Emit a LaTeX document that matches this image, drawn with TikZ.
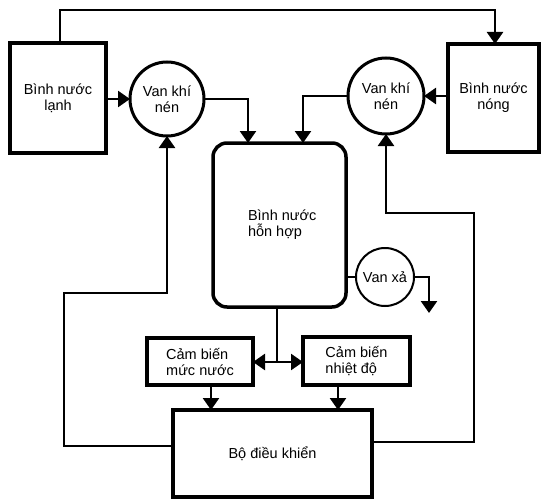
\documentclass[tikz,border=0pt]{standalone}
\usepackage{fontspec}
\setmainfont{Liberation Sans}
\usetikzlibrary{arrows.meta}
\begin{document}
\begin{tikzpicture}[x=1pt,y=-1pt,
  every node/.style={font=\fontsize{14.5}{16}\selectfont, inner sep=0pt, outer sep=0pt},
  bigbox/.style={draw, line width=4pt, align=center},
  sensbox/.style={draw, line width=4pt, align=left},
  valve/.style={draw, circle, line width=3pt, align=center},
  conn/.style={line width=2.5pt},
  arr/.style={conn, -{Triangle[width=16pt,length=12pt]}},
]
\useasboundingbox (0,0) rectangle (543,500);

% nodes
\node[bigbox, minimum width=96pt, minimum height=109pt] (cold) at (58,98) {Bình nước\\lạnh};
\node[bigbox, minimum width=91pt, minimum height=108pt] (hot) at (493.5,98) {Bình nước\\nóng};
\node[valve, minimum size=74pt] (vl) at (167,99) {Van khí\\nén};
\node[valve, minimum size=76pt] (vr) at (386,96) {Van khí\\nén};
\node[draw, line width=3.5pt, rounded corners=14pt, minimum width=133pt, minimum height=164pt] (mix) at (279.5,225) {};
\node[anchor=west, align=left] (mixt) at (248,225) {Bình nước\\hỗn hợp};
\node[draw, circle, line width=2pt, minimum size=58pt] (vx) at (385,277) {Van xả};
\node[sensbox, minimum width=106pt, minimum height=47pt] (sm) at (200,361.5) {Cảm biến\\mức nước};
\node[sensbox, minimum width=107pt, minimum height=48pt] (sn) at (356.5,361) {Cảm biến\\nhiệt độ};
\node[bigbox, minimum width=199pt, minimum height=87pt] (ctrl) at (272.5,453.5) {Bộ điều khiển};

% coordinates
\coordinate (t1) at (60,10);
\coordinate (t2) at (495,10);
\coordinate (m1) at (248,0);
\coordinate (m2) at (303,0);
\coordinate (g) at (429,313);
\coordinate (lf0) at (64,446);
\coordinate (lf1) at (64,293);
\coordinate (rf0) at (474,442);
\coordinate (rf1) at (474,213);
\coordinate (j) at (277,362);

% connectors
\draw[arr] (cold.north -| t1) -- (t1) -- (t2) -- (t2 |- hot.north);
\draw[arr] (cold.east |- vl) -- (vl.west);
\draw[arr] (hot.west |- vr) -- (vr.east);
\draw[arr] (vl.east) -| (m1 |- mix.north);
\draw[arr] (vr.west) -| (m2 |- mix.north);
\draw[conn] (mix.east |- vx) -- (vx.west);
\draw[arr] (vx.east) -| (g);
\draw[arr] (ctrl.west |- lf0) -- (lf0) -- (lf1) -| (vl.south);
\draw[arr] (ctrl.east |- rf0) -- (rf0) -- (rf1) -| (vr.south);
\draw[conn] (mix.south -| j) -- (j);
\draw[arr] (j) -- (sm.east |- j);
\draw[arr] (j) -- (sn.west |- j);
\draw[arr] ([xshift=11pt]sm.south) -- ([xshift=11pt]sm.south |- ctrl.north);
\draw[arr] ([xshift=-18.5pt]sn.south) -- ([xshift=-18.5pt]sn.south |- ctrl.north);
\end{tikzpicture}
\end{document}
